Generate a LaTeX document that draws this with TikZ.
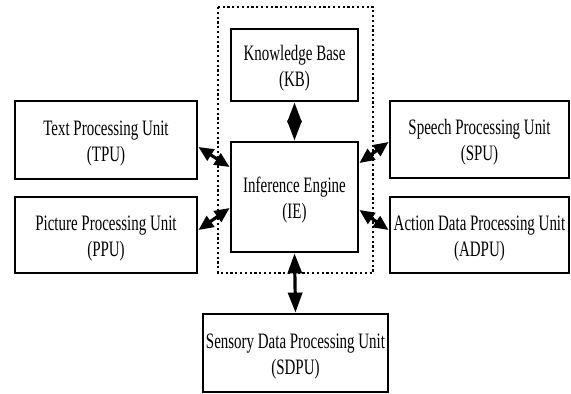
\documentclass[tikz,border=0pt]{standalone}
\usepackage{fontspec}
\setmainfont{Liberation Serif}[FakeStretch=0.68]
\usetikzlibrary{arrows.meta}
\newcommand{\boxtopstrut}{\rule{0pt}{21pt}}
\begin{document}
\begin{tikzpicture}[x=1pt,y=-1pt,
  unitbox/.style={draw=black, line width=2.8pt, align=center, inner sep=0pt,
    font=\fontsize{22}{26}\selectfont},
  biarrow/.style={line width=3.2pt, {Triangle[length=15pt,width=13pt]}-{Triangle[length=15pt,width=13pt]}},
  vbiarrow/.style={line width=3.2pt, {Triangle[length=20pt,width=14pt]}-{Triangle[length=20pt,width=14pt]}},
  engineframe/.style={draw=black, line width=2.4pt, dash pattern=on 2.2pt off 2.6pt}
]
\useasboundingbox (0,0) rectangle (571,394);
\draw[engineframe] (218,7) rectangle (373,273);
\node[unitbox, minimum width=127pt, minimum height=72pt] (KB) at (294.5,65) {\boxtopstrut Knowledge Base\\(KB)};
\node[unitbox, minimum width=127pt, minimum height=110pt] (IE) at (294.5,197) {\boxtopstrut Inference Engine\\(IE)};
\node[unitbox, minimum width=182pt, minimum height=78pt] (TPU) at (106,140) {\boxtopstrut Text Processing Unit\\(TPU)};
\node[unitbox, minimum width=182pt, minimum height=76pt] (PPU) at (106,235) {\boxtopstrut Picture Processing Unit\\(PPU)};
\node[unitbox, minimum width=179pt, minimum height=77pt] (SPU) at (479.5,139.5) {\boxtopstrut Speech Processing Unit\\(SPU)};
\node[unitbox, minimum width=179pt, minimum height=76pt] (ADPU) at (479.5,235) {\boxtopstrut Action Data Processing Unit\\(ADPU)};
\node[unitbox, minimum width=185pt, minimum height=78pt] (SDPU) at (295.5,353) {\boxtopstrut Sensory Data Processing Unit\\(SDPU)};
\draw[vbiarrow] (KB.south) -- (IE.north);
\draw[vbiarrow] (IE.south) -- (SDPU.north);
\draw[biarrow] ([yshift=-7pt]TPU.east) -- ([yshift=30pt]IE.west);
\draw[biarrow] ([yshift=5pt]PPU.east) -- ([yshift=-11pt]IE.west);
\draw[biarrow] ([yshift=-2.5pt]SPU.west) -- ([yshift=34pt]IE.east);
\draw[biarrow] ([yshift=5pt]ADPU.west) -- ([yshift=-13pt]IE.east);
\end{tikzpicture}
\end{document}
